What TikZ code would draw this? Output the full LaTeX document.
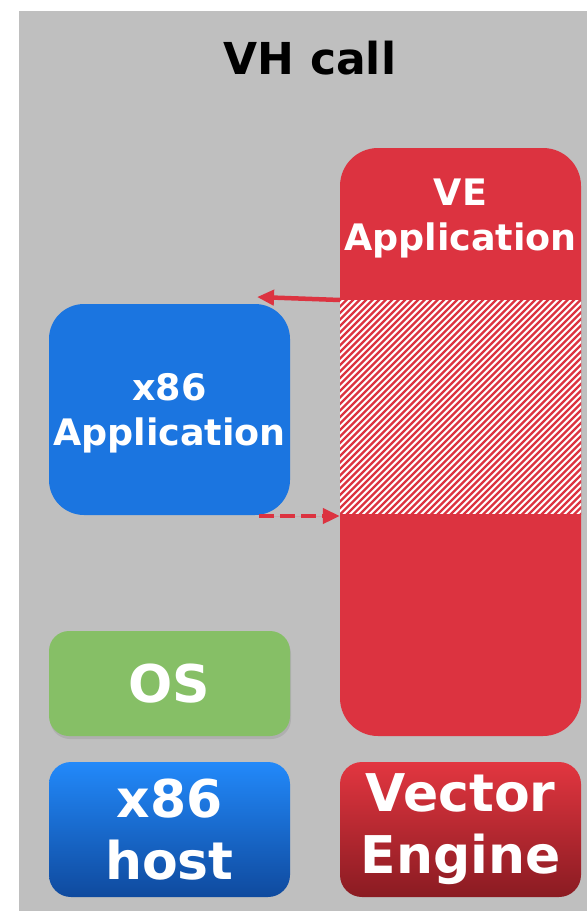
\documentclass[tikz,border=0pt]{standalone}
\usepackage{fontspec}
\setmainfont{DejaVu Sans}
\usetikzlibrary{arrows.meta,shadows}
\definecolor{bggray}{HTML}{BFBFBF}
\definecolor{vered}{HTML}{DC3340}
\definecolor{appblue}{HTML}{1B75E0}
\definecolor{osgreen}{HTML}{86BF66}
\begin{document}
\begin{tikzpicture}[x=1pt,y=-1pt,
    box/.style={minimum width=241pt, inner sep=0pt, text=white, align=center, font=\bfseries},
    hostfont/.style={font=\fontsize{52}{62}\selectfont\bfseries},
    appfont/.style={font=\fontsize{36.5}{45}\selectfont\bfseries},
    call/.style={draw=vered, fill=vered, line width=4.5pt, -{Triangle[length=17pt,width=15pt]}}]
\useasboundingbox (0,0) rectangle (587,911);
\fill[bggray] (19,11) rectangle (587,911);
\node (title) at (310,58) {\fontsize{44}{50}\selectfont\bfseries VH call};
% vector engine side
\node[box, fill=vered, rounded corners=38pt, minimum height=588pt] (ve) at (460.5,442) {};
\coordinate (htop) at (340,300);
\coordinate (hbot) at (581,514);
\begin{scope}
\clip (htop) rectangle (hbot);
\fill[white] (htop) rectangle (hbot);
\foreach \i in {120,126.5,...,600}
  \draw[vered, line width=2.3pt] (\i,520) -- ++(226,-226);
\end{scope}
\node[box, appfont] (veapp) at (460.5,218) {VE\\Application};
\node[box, hostfont, rounded corners=22pt, minimum height=135pt,
    top color={rgb,255:red,226;green,54;blue,64}, bottom color={rgb,255:red,138;green,27;blue,34}] (vecard) at (460.5,829.5) {Vector\\Engine};
% x86 side
\node[box, fill=appblue, rounded corners=35pt, minimum height=211pt] (xapp) at (169.5,409.5) {};
\node[box, appfont] (xapptext) at (169.5,413.5) {x86\\Application};
\node[box, hostfont, fill=osgreen, rounded corners=20pt, minimum height=105pt,
    drop shadow={opacity=0.25, shadow xshift=1pt, shadow yshift=-3pt}] (os) at (169.5,683.5) {OS};
\node[box, hostfont, rounded corners=22pt, minimum height=135pt,
    top color={rgb,255:red,34;green,137;blue,250}, bottom color={rgb,255:red,15;green,74;blue,158}] (xhost) at (169.5,829.5) {x86\\host};
% calls
\coordinate (cin) at (257,297);
\coordinate (cout) at (259,516);
\draw[call] (htop) -- (cin);
\draw[call, dash pattern=on 15pt off 6pt] (cout) -- (ve.west |- cout);
\end{tikzpicture}
\end{document}
